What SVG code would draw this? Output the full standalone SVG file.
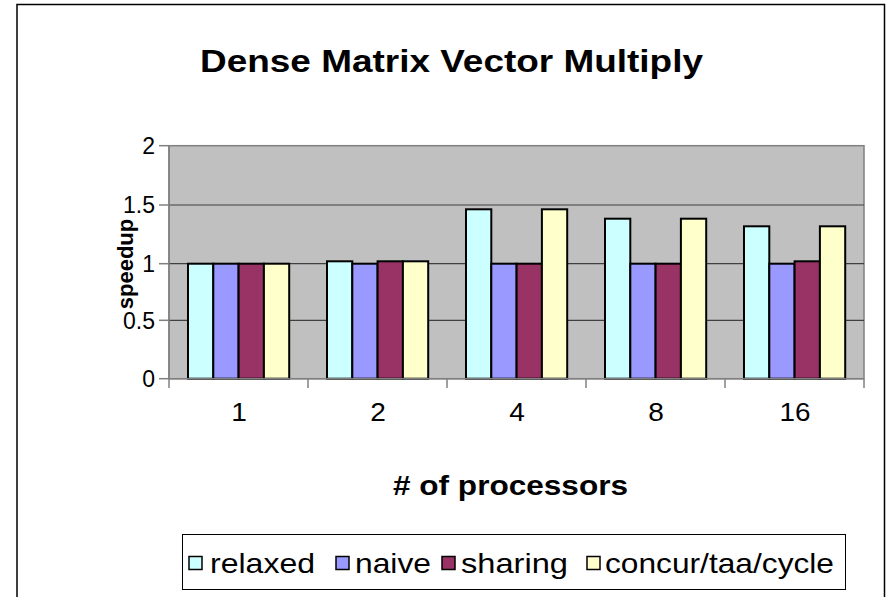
<svg xmlns="http://www.w3.org/2000/svg" width="886" height="597" viewBox="0 0 886 597">
<style>
text{font-family:"Liberation Sans",Arial,sans-serif;fill:#000}
.t{font-size:32px;font-weight:bold}
.ax{font-size:28px;font-weight:bold}
.yt{font-size:22px;font-weight:bold}
.yl{font-size:23px}
.xl{font-size:25px}
.leg{font-size:28px}
.grid{stroke:#404040;stroke-width:1.2}
.axis{stroke:#808080;stroke-width:1.5;fill:none}
.bar{stroke:#000;stroke-width:2}
.sw{stroke:#000;stroke-width:1.5}
.r{fill:#CCFFFF}.n{fill:#9999FF}.s{fill:#993366}.c{fill:#FFFFCC}
</style>
<rect x="0" y="0" width="886" height="597" fill="#fff"/>
<rect id="frame" x="17" y="4.5" width="867.5" height="610" fill="#fff" stroke="#000" stroke-width="1.5"/>
<text id="title" class="t" x="451.5" y="72" text-anchor="middle" textLength="503" lengthAdjust="spacingAndGlyphs">Dense Matrix Vector Multiply</text>
<g id="plot">
<rect x="169" y="145.7" width="695" height="233" fill="#C0C0C0" stroke="#808080" stroke-width="1.5"/>
<g class="grid">
<line x1="169" y1="205" x2="864" y2="205"/>
<line x1="169" y1="263.7" x2="864" y2="263.7"/>
<line x1="169" y1="320.3" x2="864" y2="320.3"/>
</g>
</g>
<g id="bars">
<rect class="bar r" x="188" y="263.7" width="25.3" height="115"/>
<rect class="bar n" x="213.3" y="263.7" width="25.3" height="115"/>
<rect class="bar s" x="238.6" y="263.7" width="25.3" height="115"/>
<rect class="bar c" x="263.9" y="263.7" width="25.3" height="115"/>
<rect class="bar r" x="327" y="261.3" width="25.3" height="117.4"/>
<rect class="bar n" x="352.3" y="263.7" width="25.3" height="115"/>
<rect class="bar s" x="377.6" y="261.3" width="25.3" height="117.4"/>
<rect class="bar c" x="402.9" y="261.3" width="25.3" height="117.4"/>
<rect class="bar r" x="466" y="209.3" width="25.3" height="169.4"/>
<rect class="bar n" x="491.3" y="263.7" width="25.3" height="115"/>
<rect class="bar s" x="516.6" y="263.7" width="25.3" height="115"/>
<rect class="bar c" x="541.9" y="209.3" width="25.3" height="169.4"/>
<rect class="bar r" x="605" y="218.7" width="25.3" height="160"/>
<rect class="bar n" x="630.3" y="263.7" width="25.3" height="115"/>
<rect class="bar s" x="655.6" y="263.7" width="25.3" height="115"/>
<rect class="bar c" x="680.9" y="218.7" width="25.3" height="160"/>
<rect class="bar r" x="744" y="226.3" width="25.3" height="152.4"/>
<rect class="bar n" x="769.3" y="263.7" width="25.3" height="115"/>
<rect class="bar s" x="794.6" y="261.3" width="25.3" height="117.4"/>
<rect class="bar c" x="819.9" y="226.3" width="25.3" height="152.4"/>
</g>
<g id="axes" class="axis">
<line x1="169" y1="145.7" x2="169" y2="378.7"/>
<line x1="169" y1="378.7" x2="864" y2="378.7"/>
<line x1="159" y1="145.7" x2="169" y2="145.7"/>
<line x1="159" y1="205" x2="169" y2="205"/>
<line x1="159" y1="263.7" x2="169" y2="263.7"/>
<line x1="159" y1="320.3" x2="169" y2="320.3"/>
<line x1="159" y1="378.7" x2="169" y2="378.7"/>
<line x1="169" y1="378.7" x2="169" y2="388"/>
<line x1="308" y1="378.7" x2="308" y2="388"/>
<line x1="447" y1="378.7" x2="447" y2="388"/>
<line x1="586" y1="378.7" x2="586" y2="388"/>
<line x1="725" y1="378.7" x2="725" y2="388"/>
<line x1="864" y1="378.7" x2="864" y2="388"/>
</g>
<g id="ylabels" class="yl" text-anchor="end">
<text x="155" y="154">2</text>
<text x="155" y="213.3">1.5</text>
<text x="155" y="272">1</text>
<text x="155" y="328.6">0.5</text>
<text x="155" y="387">0</text>
</g>
<g id="xlabels" text-anchor="middle">
<text x="239" y="421" class="xl" textLength="15.6" lengthAdjust="spacingAndGlyphs">1</text>
<text x="378" y="421" class="xl" textLength="15.6" lengthAdjust="spacingAndGlyphs">2</text>
<text x="517" y="421" class="xl" textLength="15.6" lengthAdjust="spacingAndGlyphs">4</text>
<text x="656" y="421" class="xl" textLength="15.6" lengthAdjust="spacingAndGlyphs">8</text>
<text x="795" y="421" class="xl" textLength="31" lengthAdjust="spacingAndGlyphs">16</text>
</g>
<text id="xtitle" class="ax" x="510.5" y="495" text-anchor="middle" textLength="235" lengthAdjust="spacingAndGlyphs"># of processors</text>
<text id="ytitle" class="yt" transform="translate(133,264) rotate(-90)" text-anchor="middle">speedup</text>
<g id="legend">
<rect x="182.5" y="534.5" width="663" height="55" fill="#fff" stroke="#000" stroke-width="1"/>
<rect class="r sw" x="189" y="556.5" width="13" height="13"/>
<text class="leg" x="210" y="573" textLength="105" lengthAdjust="spacingAndGlyphs">relaxed</text>
<rect class="n sw" x="336" y="556.5" width="13" height="13"/>
<text class="leg" x="355" y="573" textLength="76" lengthAdjust="spacingAndGlyphs">naive</text>
<rect class="s sw" x="442" y="556.5" width="13" height="13"/>
<text class="leg" x="461" y="573" textLength="107" lengthAdjust="spacingAndGlyphs">sharing</text>
<rect class="c sw" x="587" y="556.5" width="13" height="13"/>
<text class="leg" x="605" y="573" textLength="229" lengthAdjust="spacingAndGlyphs">concur/taa/cycle</text>
</g>
</svg>
